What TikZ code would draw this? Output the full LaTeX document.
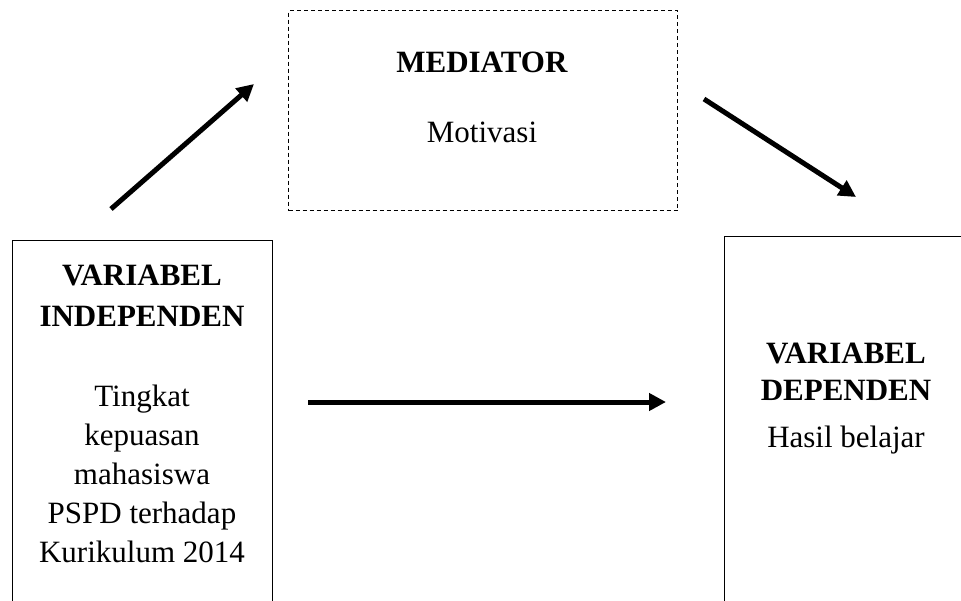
\documentclass[tikz,border=0pt]{standalone}
\usepackage{fontspec}
\setmainfont{Liberation Serif}
\usetikzlibrary{arrows.meta}

\begin{document}
\begin{tikzpicture}[x=1pt, y=-1pt,
  frame/.style={draw, line width=1pt, inner sep=0pt, anchor=north west},
  txt/.style={align=center, inner sep=0pt, anchor=north, font=\fontsize{31}{39}\selectfont},
  link/.style={line width=5pt, -{Triangle[length=17pt, width=17pt]}}]
  \clip (0,0) rectangle (961,600);

  % Mediator
  \node[frame, dash pattern=on 4pt off 3pt, minimum width=389pt, minimum height=200pt] (med) at (288,10) {};
  \node[txt] (medtxt) at (482,52) {\textbf{MEDIATOR}\\[31pt]Motivasi};

  % Independent variable
  \node[frame, minimum width=260pt, minimum height=420pt] (indep) at (12,240) {};
  \node[txt] (indeptxt) at (142,265)
     {\textbf{VARIABEL}\\[2pt]\textbf{INDEPENDEN}\\[41pt]Tingkat\\kepuasan\\mahasiswa\\PSPD terhadap\\Kurikulum 2014};

  % Dependent variable
  \node[frame, minimum width=250pt, minimum height=420pt] (dep) at (724,236) {};
  \node[txt] (deptxt) at (846,343) {\textbf{VARIABEL}\\[-2pt]\textbf{DEPENDEN}\\[8pt]Hasil belajar};

  % Arrow ends
  \coordinate (indepout) at (111,209);
  \coordinate (medin) at (254,84);
  \coordinate (medout) at (704,99);
  \coordinate (depin) at (856,197);
  \coordinate (directout) at (308,402);
  \coordinate (directin) at (666,402);

  % Arrows
  \draw[link] (indepout) -- (medin);
  \draw[link] (medout) -- (depin);
  \draw[link] (directout) -- (directin);
\end{tikzpicture}
\end{document}
